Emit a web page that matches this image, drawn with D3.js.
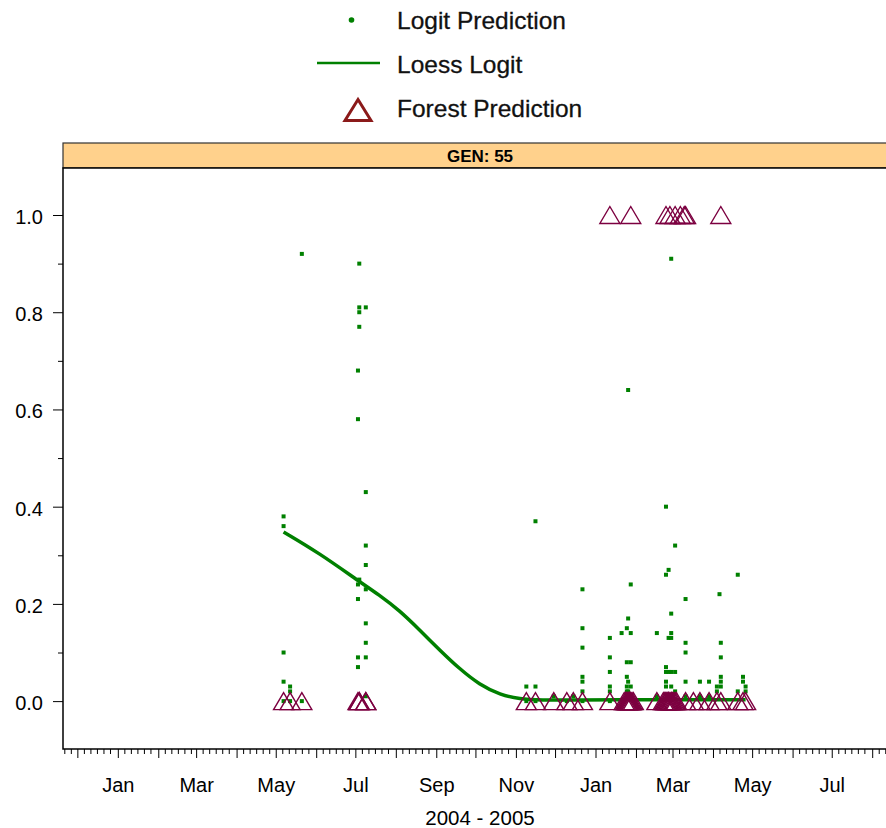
<!DOCTYPE html>
<html>
<head>
<meta charset="utf-8">
<script src="https://cdn.jsdelivr.net/npm/d3@7"></script>
<style>
  body { margin: 0; background: #fff; }
  svg { display: block; font-family: "Liberation Sans", Arial, sans-serif; }
</style>
</head>
<body>
<svg id="chart" width="886" height="828"></svg>
<script>
// ---- data ---------------------------------------------------------------
// Logit model predictions: [date, predicted probability]
const logitPoints = [
  ["2004-05-07", 0.38], ["2004-05-07", 0.36], ["2004-05-07", 0.10], ["2004-05-07", 0.04], ["2004-05-07", 0.00],
  ["2004-05-12", 0.03], ["2004-05-12", 0.02], ["2004-05-12", 0.00],
  ["2004-05-21", 0.92], ["2004-05-21", 0.00],
  ["2004-07-03", 0.68], ["2004-07-03", 0.58], ["2004-07-03", 0.24], ["2004-07-03", 0.21], ["2004-07-03", 0.09], ["2004-07-03", 0.07],
  ["2004-07-04", 0.90], ["2004-07-04", 0.81], ["2004-07-04", 0.80], ["2004-07-04", 0.77], ["2004-07-04", 0.25],
  ["2004-07-09", 0.81], ["2004-07-09", 0.43], ["2004-07-09", 0.32], ["2004-07-09", 0.28], ["2004-07-09", 0.23],
  ["2004-07-09", 0.16], ["2004-07-09", 0.12], ["2004-07-09", 0.09], ["2004-07-09", 0.01],
  ["2004-11-09", 0.03], ["2004-11-09", 0.00],
  ["2004-11-16", 0.37], ["2004-11-16", 0.03], ["2004-11-16", 0.00],
  ["2004-11-30", 0.01], ["2004-12-10", 0.00], ["2004-12-15", 0.01],
  ["2004-12-22", 0.23], ["2004-12-22", 0.15], ["2004-12-22", 0.11], ["2004-12-22", 0.05], ["2004-12-22", 0.04], ["2004-12-22", 0.02], ["2004-12-22", 0.00],
  ["2005-01-12", 0.13], ["2005-01-12", 0.09], ["2005-01-12", 0.06], ["2005-01-12", 0.03], ["2005-01-12", 0.02], ["2005-01-12", 0.00],
  ["2005-01-21", 0.14],
  ["2005-01-25", 0.15], ["2005-01-25", 0.08], ["2005-01-25", 0.05], ["2005-01-25", 0.03], ["2005-01-25", 0.02],
  ["2005-01-26", 0.64], ["2005-01-26", 0.17], ["2005-01-26", 0.04], ["2005-01-26", 0.02],
  ["2005-01-28", 0.24], ["2005-01-28", 0.14], ["2005-01-28", 0.08], ["2005-01-28", 0.03], ["2005-01-28", 0.01],
  ["2005-02-17", 0.14], ["2005-02-17", 0.01],
  ["2005-02-24", 0.40], ["2005-02-24", 0.26], ["2005-02-24", 0.07], ["2005-02-24", 0.06], ["2005-02-24", 0.04], ["2005-02-24", 0.03],
  ["2005-02-26", 0.27], ["2005-02-26", 0.13], ["2005-02-26", 0.06],
  ["2005-02-28", 0.91], ["2005-02-28", 0.18], ["2005-02-28", 0.14], ["2005-02-28", 0.13], ["2005-02-28", 0.06], ["2005-02-28", 0.03],
  ["2005-03-03", 0.32], ["2005-03-03", 0.06], ["2005-03-03", 0.02],
  ["2005-03-11", 0.21], ["2005-03-11", 0.12], ["2005-03-11", 0.10], ["2005-03-11", 0.04], ["2005-03-11", 0.01],
  ["2005-03-22", 0.04], ["2005-03-22", 0.01],
  ["2005-03-29", 0.04], ["2005-03-29", 0.01],
  ["2005-04-04", 0.03], ["2005-04-04", 0.02],
  ["2005-04-06", 0.22],
  ["2005-04-07", 0.12], ["2005-04-07", 0.09], ["2005-04-07", 0.05], ["2005-04-07", 0.04], ["2005-04-07", 0.03],
  ["2005-04-20", 0.26], ["2005-04-20", 0.02],
  ["2005-04-24", 0.05], ["2005-04-24", 0.04],
  ["2005-04-26", 0.03], ["2005-04-26", 0.02]
];

// Loess smooth of the logit predictions: [date, fitted value]
const loessCurve = [
  ["2004-05-07", 0.348], ["2004-06-03", 0.305], ["2004-07-04", 0.246], ["2004-07-19", 0.219],
  ["2004-08-04", 0.186], ["2004-08-19", 0.147], ["2004-09-04", 0.104], ["2004-09-19", 0.066],
  ["2004-10-04", 0.034], ["2004-10-20", 0.013], ["2004-11-04", 0.004], ["2004-11-19", 0.002],
  ["2004-12-20", 0.002], ["2005-01-20", 0.003], ["2005-02-19", 0.003], ["2005-03-22", 0.003],
  ["2005-04-26", 0.003]
];

// Random forest predictions (class 0 or 1): [date, prediction]
const forestPoints = [
  ["2004-05-07", 0], ["2004-05-12", 0], ["2004-05-21", 0],
  ["2004-07-03", 0], ["2004-07-04", 0], ["2004-07-04", 0], ["2004-07-09", 0], ["2004-07-09", 0],
  ["2004-11-09", 0], ["2004-11-16", 0], ["2004-11-30", 0], ["2004-12-10", 0], ["2004-12-15", 0], ["2004-12-22", 0],
  ["2005-01-12", 0],
  ["2005-01-23", 0], ["2005-01-24", 0], ["2005-01-25", 0], ["2005-01-25", 0], ["2005-01-26", 0], ["2005-01-26", 0],
  ["2005-01-27", 0], ["2005-01-27", 0], ["2005-01-28", 0], ["2005-01-28", 0], ["2005-01-29", 0], ["2005-01-30", 0],
  ["2005-02-17", 0],
  ["2005-02-22", 0], ["2005-02-23", 0], ["2005-02-24", 0], ["2005-02-24", 0], ["2005-02-25", 0], ["2005-02-26", 0],
  ["2005-02-26", 0], ["2005-02-27", 0], ["2005-02-28", 0], ["2005-02-28", 0], ["2005-03-01", 0], ["2005-03-02", 0],
  ["2005-03-03", 0], ["2005-03-04", 0],
  ["2005-03-11", 0], ["2005-03-17", 0], ["2005-03-22", 0], ["2005-03-29", 0], ["2005-04-04", 0], ["2005-04-07", 0],
  ["2005-04-20", 0], ["2005-04-24", 0], ["2005-04-26", 0],
  ["2005-01-12", 1], ["2005-01-28", 1], ["2005-02-24", 1], ["2005-02-27", 1], ["2005-03-03", 1],
  ["2005-03-07", 1], ["2005-03-10", 1], ["2005-03-11", 1], ["2005-04-07", 1]
];

const yTickValues = [0, 0.2, 0.4, 0.6, 0.8, 1.0];
const yMinorValues = [0.1, 0.3, 0.5, 0.7, 0.9];
const monthNames = ["Jan", "Feb", "Mar", "Apr", "May", "Jun", "Jul", "Aug", "Sep", "Oct", "Nov", "Dec"];
const minorTickDays = [6, 11, 16, 21, 26];
const panelTitle = "GEN: 55";
const xAxisTitle = "2004 - 2005";
const xStart = "2003-11-20", xEnd = "2005-08-20";
const legendItems = ["Logit Prediction", "Loess Logit", "Forest Prediction"];

// ---- layout -------------------------------------------------------------
const parse = d3.utcParse("%Y-%m-%d");
const panel = { left: 63, right: 897, top: 168, bottom: 749 };
const stripTop = 143;

const svg = d3.select("#chart");

const x = d3.scaleUtc()
  .domain([parse(xStart), parse(xEnd)])
  .range([panel.left, panel.right]);
const y = d3.scaleLinear()
  .domain([-0.0985, 1.0967])
  .range([panel.bottom, panel.top]);

const GREEN = "#008000";
const MAROON = "#7c0040";

// strip header
svg.append("rect")
  .attr("x", panel.left).attr("y", stripTop)
  .attr("width", panel.right - panel.left).attr("height", panel.top - stripTop)
  .attr("fill", "#ffd18c").attr("stroke", "#333").attr("stroke-width", 1.2);
svg.append("text")
  .attr("x", (panel.left + panel.right) / 2).attr("y", 162)
  .attr("text-anchor", "middle").attr("font-size", 17).attr("font-weight", "bold")
  .text(panelTitle);

// panel frame
svg.append("rect")
  .attr("x", panel.left).attr("y", panel.top)
  .attr("width", panel.right - panel.left).attr("height", panel.bottom - panel.top)
  .attr("fill", "#fff").attr("stroke", "#000").attr("stroke-width", 1.5);

// y axis
const yAxis = svg.append("g").attr("transform", `translate(${panel.left},0)`)
  .call(d3.axisLeft(y).tickValues(yTickValues).tickSize(10).tickPadding(10).tickFormat(d3.format(".1f")));
yAxis.select(".domain").remove();
yAxis.selectAll("text").attr("font-size", 20).attr("font-family", null).attr("dy", "0.42em").attr("fill", "#000");
yAxis.selectAll("line").attr("stroke", "#000");
const yMinor = svg.append("g").attr("transform", `translate(${panel.left},0)`)
  .call(d3.axisLeft(y).tickValues(yMinorValues).tickSize(5).tickFormat(""));
yMinor.select(".domain").remove();

// x axis: monthly ticks, labels every other month, minor ticks within months
const months = d3.utcMonth.range(parse(xStart), parse(xEnd));
const xAxis = svg.append("g").attr("transform", `translate(0,${panel.bottom})`)
  .call(d3.axisBottom(x).tickValues(months).tickSize(9)
    .tickFormat(d => d.getUTCMonth() % 2 === 0 ? monthNames[d.getUTCMonth()] : ""));
xAxis.select(".domain").remove();
xAxis.selectAll("text").attr("font-size", 20).attr("font-family", null)
  .attr("y", 42.5).attr("dy", 0).attr("fill", "#000");
const minorDays = d3.utcDay.range(parse(xStart), parse(xEnd))
  .filter(d => minorTickDays.includes(d.getUTCDate()));
const xMinor = svg.append("g").attr("transform", `translate(0,${panel.bottom})`)
  .call(d3.axisBottom(x).tickValues(minorDays).tickSize(5).tickFormat(""));
xMinor.select(".domain").remove();

svg.append("text")
  .attr("x", (panel.left + panel.right) / 2).attr("y", 825)
  .attr("text-anchor", "middle").attr("font-size", 20.5)
  .text(xAxisTitle);

// plot contents
const plot = svg.append("g");

plot.selectAll("rect.logit").data(logitPoints).join("rect")
  .attr("class", "logit")
  .attr("x", d => x(parse(d[0])) - 2).attr("y", d => y(d[1]) - 2)
  .attr("width", 4).attr("height", 4).attr("fill", GREEN);

plot.append("path")
  .datum(loessCurve)
  .attr("fill", "none").attr("stroke", GREEN).attr("stroke-width", 3.5)
  .attr("d", d3.line().curve(d3.curveBasis)
    .x(d => x(parse(d[0]))).y(d => y(d[1])));

const tri = (w, h) => `M0,${-h / 2}L${w / 2},${h / 2}L${-w / 2},${h / 2}Z`;
plot.selectAll("path.forest").data(forestPoints).join("path")
  .attr("class", "forest")
  .attr("transform", d => `translate(${x(parse(d[0]))},${y(d[1])})`)
  .attr("d", tri(20, 17))
  .attr("fill", "none").attr("stroke", MAROON).attr("stroke-width", 1.4);

// legend
const legend = svg.append("g");
legend.append("circle").attr("cx", 351.5).attr("cy", 20).attr("r", 2.8).attr("fill", GREEN);
legend.append("line").attr("x1", 317).attr("x2", 380).attr("y1", 63).attr("y2", 63)
  .attr("stroke", GREEN).attr("stroke-width", 2.5);
legend.append("path").attr("transform", "translate(358,110)").attr("d", tri(26, 21))
  .attr("fill", "none").attr("stroke", "#8b1a1a").attr("stroke-width", 3);
legend.selectAll("text").data(legendItems).join("text")
  .attr("x", 397).attr("y", (d, i) => [29, 73, 117][i])
  .attr("font-size", 24.5).attr("fill", "#111")
  .attr("stroke", "#111").attr("stroke-width", 0.3)
  .text(d => d);
</script>
</body>
</html>
